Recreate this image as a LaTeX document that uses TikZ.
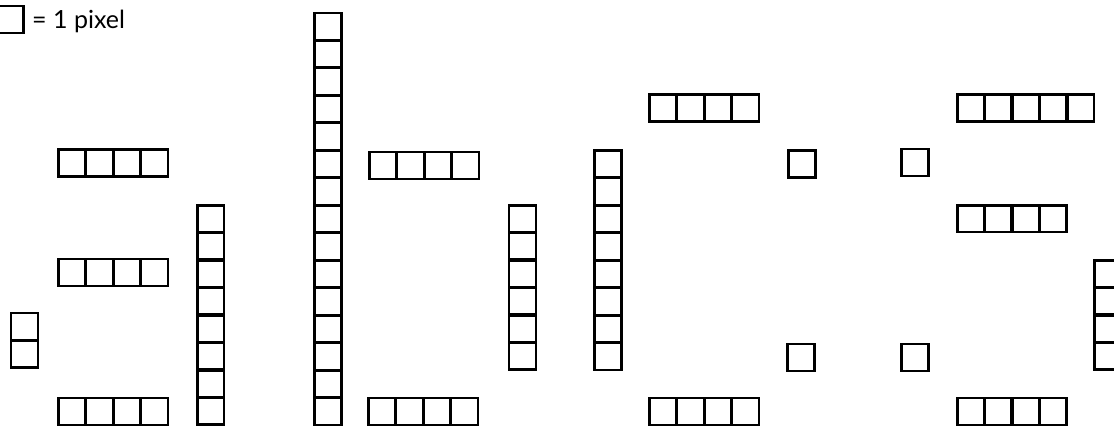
\documentclass[tikz,border=0pt]{standalone}
\usepackage{fontspec}
\setmainfont{Lato}
\begin{document}
\begin{tikzpicture}[x=1pt,y=-1pt,
  cell/.style={draw=black, line width=2.6pt, minimum size=26.8pt, inner sep=0pt, outer sep=0pt},
  legendtext/.style={inner sep=0pt, anchor=base west, font=\fontsize{25}{30}\selectfont}]
\useasboundingbox (0,0) rectangle (1114,426);
% legend
\node[cell] (legend) at (10.3,19.5) {};
\node[legendtext] (legendlabel) at (32,28.5) {= 1 pixel};
% letter a
\foreach \i in {0,...,3} {
  \node[cell] (aTop\i) at (72+27.5*\i,163) {};
  \node[cell] (aMid\i) at (72+27.5*\i,272.4) {};
  \node[cell] (aBot\i) at (72+27.5*\i,411.5) {};
}
\foreach \i in {0,1} \node[cell] (aLeft\i) at (24.4,326.5+27.5*\i) {};
\foreach \i in {0,...,7} \node[cell] (aRight\i) at (210.7,218.7+27.5*\i) {};
% letter b
\foreach \i in {0,...,14} \node[cell] (bStem\i) at (328,26.4+27.5*\i) {};
\foreach \i in {0,...,3} {
  \node[cell] (bTop\i) at (383+27.5*\i,165.4) {};
  \node[cell] (bBot\i) at (382+27.5*\i,411.5) {};
}
% letter c region
\foreach \i in {0,...,5} \node[cell] (cLeft\i) at (522.4,218.7+27.5*\i) {};
\foreach \i in {0,...,7} \node[cell] (cStem\i) at (608,164+27.5*\i) {};
\foreach \i in {0,...,3} {
  \node[cell] (cTop\i) at (663+27.5*\i,108) {};
  \node[cell] (cBot\i) at (663+27.5*\i,411.5) {};
}
% single dots
\node[cell] (d1) at (802,164) {};
\node[cell] (d2) at (915,162.4) {};
\node[cell] (d3) at (801,357.4) {};
\node[cell] (d4) at (915,357.4) {};
% letter e region
\foreach \i in {0,...,4} \node[cell] (eTop\i) at (970.7+27.5*\i,108) {};
\foreach \i in {0,...,3} {
  \node[cell] (eMid\i) at (970.7+27.5*\i,218.7) {};
  \node[cell] (eBot\i) at (970.7+27.5*\i,411.5) {};
  \node[cell] (eRight\i) at (1108,273.7+27.5*\i) {};
}
\end{tikzpicture}
\end{document}
